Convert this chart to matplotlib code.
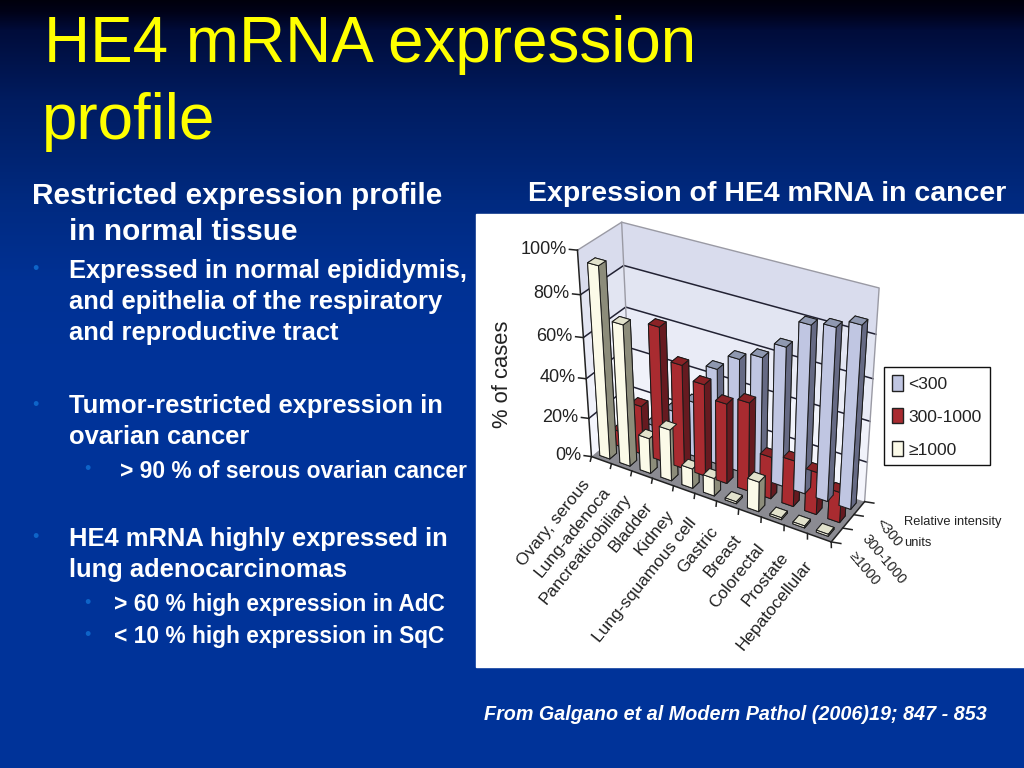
import numpy as np
import matplotlib
matplotlib.use("Agg")
import matplotlib.pyplot as plt
from matplotlib.patches import Patch, Rectangle
from mpl_toolkits.mplot3d import proj3d
from mpl_toolkits.mplot3d.art3d import Poly3DCollection

plt.rcParams["font.family"] = ["Liberation Sans", "DejaVu Sans"]

categories = ["Ovary, serous", "Lung-adenoca", "Pancreaticobiliary", "Bladder", "Kidney",
              "Lung-squamous cell", "Gastric", "Breast", "Colorectal", "Prostate", "Hepatocellular"]
series_labels = ["\u22651000", "300-1000", "<300"]
high_vals = [94, 70, 18, 26, 10, 9, 1, 15, 1, 1, 1]
mid_vals = [8, 25, 67, 52, 46, 40, 44, 21, 23, 21, 15]
low_vals = [0, 9, 20, 28, 48, 56, 60, 68, 81, 83, 87]
z_ticks = [0, 20, 40, 60, 80, 100]

W, H = 1024, 768
# front, right side and top face of a bar, one triple per series
face_cols = [("#fbfae8", "#8c8c7a", "#e2e2cc"),
             ("#a92b30", "#661a20", "#8a2226"),
             ("#c0c6e2", "#666a84", "#8f98b0")]
band_cols = ["#f4f5fc", "#f0f2fa", "#e9ebf6", "#e2e5f2", "#d9dced"]


def box(x, y, w, h):
    # pixel box (top-left origin) -> figure fraction
    return [x / W, 1 - (y + h) / H, w / W, h / H]


def label3d(ax, x, y, z, s, **kw):
    # plain 2d text at the projected position of a 3d point
    px, py, _ = proj3d.proj_transform(x, y, z, ax.get_proj())
    ax.text2D(px, py, s, transform=ax.transData, color="#222222", rotation_mode="anchor", zorder=4, **kw)


fig = plt.figure(figsize=(W / 100, H / 100), dpi=100)

# slide background
bg = fig.add_axes([0, 0, 1, 1])
grad = np.array([[0, 0, 12], [0, 2, 25], [0, 12, 58], [0, 28, 96], [0, 42, 128], [0, 49, 148], [0, 51, 153], [0, 51, 153]]) / 255
stops = np.array([0, 12, 30, 100, 200, 280, 360, 768])
rows = np.arange(H)
img = np.stack([np.interp(rows, stops, grad[:, c]) for c in range(3)], axis=1)[:, None, :]
bg.imshow(img, aspect="auto", extent=[0, W, H, 0])
bg.set_xlim(0, W)
bg.set_ylim(H, 0)
bg.axis("off")
bg.add_patch(Rectangle((476, 214), 548, 453, color="white", zorder=1))

yellow = "#ffff00"
bg.text(44, 45, "HE4 mRNA expression", color=yellow, fontsize=45.9, va="center", ha="left")
bg.text(42, 122, "profile", color=yellow, fontsize=45.9, va="center", ha="left")
bg.text(767.5, 194, "Expression of HE4 mRNA in cancer", color="white", fontsize=20.5, fontweight="bold", ha="center", va="center")
bg.text(735.5, 714, "From Galgano et al Modern Pathol (2006)19; 847 - 853", color="white", fontsize=14.2,
        fontweight="bold", style="italic", ha="center", va="center")

body = [(32, 196, "Restricted expression profile", 21.4), (69, 232, "in normal tissue", 21.4),
        (69, 271, "Expressed in normal epididymis,", 18.4), (69, 302, "and epithelia of the respiratory", 18.4),
        (69, 333, "and reproductive tract", 18.4), (69, 406, "Tumor-restricted expression in", 18.4),
        (69, 437, "ovarian cancer", 18.4), (120, 471, "> 90 % of serous ovarian cancer", 16.4),
        (69, 539, "HE4 mRNA highly expressed in", 18.4), (69, 570, "lung adenocarcinomas", 18.4),
        (114, 604, "> 60 % high expression in AdC", 16.4), (114, 637, "< 10 % high expression in SqC", 16.4)]
for x, y, s, size in body:
    bg.text(x, y, s, color="white", fontsize=size, fontweight="bold", va="center", ha="left")
for x, y in [(32, 270), (32, 405), (84, 470), (32, 538), (84, 603), (84, 636)]:
    bg.text(x, y, "\u2022", color="#0e64c8", fontsize=13, va="center", ha="left")

bg.text(502, 374, "% of cases", color="#222222", fontsize=15.8, rotation=90, ha="center", va="center", zorder=3)
bg.text(904, 522, "Relative intensity", color="#222222", fontsize=9.3, ha="left", va="center", zorder=3)
bg.text(904, 543, "units", color="#222222", fontsize=9.3, ha="left", va="center", zorder=3)

# 3d chart, view fitted to the reference box corners
ax = fig.add_axes(box(531.9, 196.5, 374.6, 374.6), projection="3d", computed_zorder=False)
ax.patch.set_alpha(0)
ax.set_axis_off()
n = len(categories)
ax.set_xlim(0, n)
ax.set_ylim(0, 3)
ax.set_zlim(0, 100)
ax.view_init(elev=31.37, azim=-59.28, roll=0.14)
ax.set_proj_type("persp", focal_length=0.636)
ax.set_box_aspect((1, 0.264, 0.852), zoom=1)

# walls and floor
for k in range(len(z_ticks) - 1):
    z0, z1 = z_ticks[k], z_ticks[k + 1]
    walls = [[(0, 3, z0), (n, 3, z0), (n, 3, z1), (0, 3, z1)], [(0, 0, z0), (0, 3, z0), (0, 3, z1), (0, 0, z1)]]
    ax.add_collection3d(Poly3DCollection(walls, facecolors=band_cols[k], edgecolors="none", zorder=1))
floor = [[(0, 0, 0), (n, 0, 0), (n, 3, 0), (0, 3, 0)]]
ax.add_collection3d(Poly3DCollection(floor, facecolors="#8b8b92", edgecolors="none", zorder=1))

for t in z_ticks[1:-1]:
    ax.plot([0, 0, n], [0, 3, 3], [t, t, t], color="#222233", lw=1.1, zorder=2)
ax.plot([0, 0, n, n], [0, 3, 3, 3], [100, 100, 100, 0], color="#9a9aa4", lw=1.0, zorder=2)
ax.plot([0, 0], [3, 3], [0, 100], color="#9a9aa4", lw=1.0, zorder=2)

# axis lines and tick marks
ax.plot([0, 0], [0, 0], [0, 100], color="#222222", lw=1.1, zorder=2)
ax.plot([0, n], [0, 0], [0, 0], color="#222222", lw=1.1, zorder=2)
ax.plot([n, n], [0, 3], [0, 0], color="#222222", lw=1.1, zorder=2)
for t in z_ticks:
    ax.plot([0, -0.3], [0, -0.1], [t, t], color="#222222", lw=1.1, zorder=2)
    label3d(ax, -0.4, -0.15, t, f"{t}%", fontsize=13, ha="right", va="center")
for i in range(n + 1):
    ax.plot([i, i + 0.15], [0, -0.3], [0, 0], color="#222222", lw=1.1, zorder=2)
for j in range(4):
    ax.plot([n, n + 0.35], [j, j + 0.1], [0, 0], color="#222222", lw=1.1, zorder=2)

# bars
xs, ys, tops, cols = [], [], [], []
for j, vals in enumerate([high_vals, mid_vals, low_vals]):
    front, side, top = face_cols[j]
    for i, v in enumerate(vals):
        xs.append(i + 0.25)
        ys.append(j + 0.25)
        tops.append(v)
        # bar3d face order: -z, +z, -y, +y, -x, +x
        cols.extend([side, top, front, side, front, side])
ax.bar3d(xs, ys, np.zeros(n * 3), 0.5, 0.5, tops, color=cols, edgecolor="#1a1a1a",
         linewidth=0.7, shade=False, zorder=3)

# slanted labels
for i, name in enumerate(categories):
    label3d(ax, i + 0.85, -1.55, 0, name, fontsize=12.4, rotation=51, ha="right", va="center")
for j, name in enumerate(series_labels):
    label3d(ax, n + 0.95, 1.2 * j - 0.25, 0, name, fontsize=10.3, rotation=-50, ha="left", va="center")

handles = [Patch(facecolor=face_cols[2][0], edgecolor="#222222"), Patch(facecolor=face_cols[1][0], edgecolor="#222222"),
           Patch(facecolor=face_cols[0][0], edgecolor="#222222")]
fig.legend(handles, series_labels[::-1], loc="upper left", bbox_to_anchor=(884 / W, 1 - 367 / H), fontsize=12.6,
           frameon=True, fancybox=False, edgecolor="#111111", framealpha=1, borderaxespad=0, borderpad=0.45,
           labelspacing=0.92, handlelength=0.65, handleheight=1.0, handletextpad=0.3, labelcolor="#222222")

fig.savefig("out.png", dpi=100)
